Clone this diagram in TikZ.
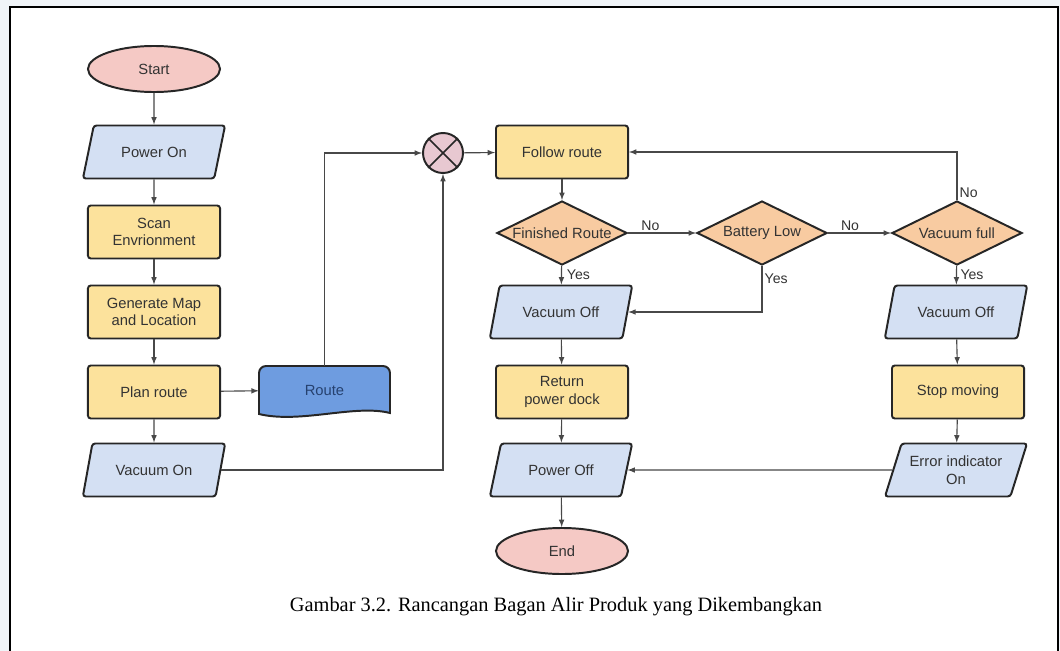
\documentclass[tikz,border=0pt]{standalone}
\usepackage{fontspec}
\setmainfont{Liberation Sans}
\newfontfamily\legende{Liberation Serif}
\usetikzlibrary{shapes.geometric}
\definecolor{rose}{HTML}{F5C9C5}
\definecolor{bleuclair}{HTML}{D4E0F3}
\definecolor{jaune}{HTML}{FCE29C}
\definecolor{saumon}{HTML}{F8CBA1}
\definecolor{bleudoc}{HTML}{6E9CE0}
\definecolor{bleufonce}{HTML}{26416F}
\definecolor{mauve}{HTML}{E8C8D1}
\definecolor{fond}{HTML}{F0F4F8}
\definecolor{trait}{HTML}{484848}
\definecolor{texte}{HTML}{333333}
\tikzset{
  bord/.style={draw=black!85, line width=1.4pt},
  terminal/.style={bord, ellipse, fill=rose, minimum width=3.3cm, minimum height=1.15cm, inner sep=0pt},
  io/.style={bord, trapezium, trapezium left angle=65, trapezium right angle=115, trapezium stretches=true,
    fill=bleuclair, minimum width=3.575cm, minimum height=1.325cm, inner sep=1pt, rounded corners=2pt, align=center},
  process/.style={bord, rectangle, fill=jaune, minimum width=3.3cm, minimum height=1.325cm, rounded corners=2pt, align=center},
  decision/.style={bord, diamond, fill=saumon, minimum width=3.25cm, minimum height=1.6cm, inner sep=0pt},
  fleche/.style={draw=trait, line width=0.8pt, -latex},
  etiquette/.style={font=\fontsize{10}{12}\selectfont, text=texte, inner sep=1.5pt}
}
\newcommand{\lien}[2]{\draw[fleche] (#1) -- (#2)}

\begin{document}
\begin{tikzpicture}[x=0.025cm, y=-0.025cm, font=\fontsize{10.5}{12.5}\selectfont, text=texte]
  \useasboundingbox (0,0) rectangle (1060,651);
  \fill[fond] (0,0) rectangle (1060,651);
  \fill[white] (10,7) rectangle (1058,651);
  \draw[line width=1.6pt] (10,651) -- (10,7) -- (1058,7) -- (1058,651);

  % colonne de gauche
  \node[terminal] (start) at (154,69) {Start};
  \node[io] (pon) at (154,152) {Power On};
  \node[process] (scan) at (154,232) {Scan\\Envrionment};
  \node[process] (gen) at (154,312) {Generate Map\\and Location};
  \node[process] (plan) at (154,392) {Plan route};
  \node[io] (von) at (154,470) {Vacuum On};

  % document route
  \draw[bord, fill=bleudoc, rounded corners=5pt] (259,414) -- (259,366) -- (390,366)
    [sharp corners] -- (390,413) .. controls (355,404) and (300,424) .. (259,414) -- cycle;
  \node[minimum width=3.275cm, minimum height=1.2cm, inner sep=0pt, text=bleufonce] (route) at (324.5,390) {Route};

  % jonction
  \node[bord, circle, fill=mauve, minimum size=1cm, inner sep=0pt] (mix) at (443,153) {};
  \draw[line width=1.2pt, black!85] (mix.45) -- (mix.225) (mix.135) -- (mix.315);

  % colonne du milieu
  \node[process] (follow) at (562,152) {Follow route};
  \node[decision, label=center:Finished Route] (fin) at (562,233) {};
  \node[io] (voffL) at (561,312) {Vacuum Off};
  \node[process] (ret) at (562,392) {Return\\power dock};
  \node[io] (poff) at (561,470) {Power Off};
  \node[terminal] (end) at (562,551) {End};

  % colonne de droite
  \node[decision, label=center:Battery Low] (bat) at (762,233) {};
  \node[decision, label=center:Vacuum full] (vful) at (957,233) {};
  \node[io] (voffR) at (956,312) {Vacuum Off};
  \node[process] (stop) at (958,392) {Stop moving};
  \node[io] (err) at (956,470) {Error indicator\\On};

  \node[font=\legende\fontsize{14.5}{17}\selectfont, text=black] (cap) at (556,607)
    {Gambar 3.2. Rancangan Bagan Alir Produk yang Dikembangkan};

  \lien{start}{pon};
  \lien{pon}{scan};
  \lien{scan}{gen};
  \lien{gen}{plan};
  \lien{plan}{von};
  \lien{plan}{route};
  \draw[fleche] (route.north) |- (mix.west);
  \draw[fleche] (von.east) -| (mix.south);
  \lien{mix}{follow};
  \lien{follow}{fin};
  \draw[fleche] (fin) -- node[etiquette, above, pos=0.33] {No} (bat);
  \draw[fleche] (fin) -- node[etiquette, right, xshift=2pt] {Yes} (voffL);
  \draw[fleche] (bat.south) |- node[etiquette, right, pos=0.14] {Yes} (voffL.east);
  \draw[fleche] (bat) -- node[etiquette, above, pos=0.35] {No} (vful);
  \draw[fleche] (vful.north) |- node[etiquette, right, pos=0.08] {No} (follow.east);
  \draw[fleche] (vful) -- node[etiquette, right, xshift=1pt] {Yes} (voffR);
  \lien{voffL}{ret};
  \lien{ret}{poff};
  \lien{poff}{end};
  \lien{voffR}{stop};
  \lien{stop}{err};
  \lien{err}{poff};
\end{tikzpicture}
\end{document}
